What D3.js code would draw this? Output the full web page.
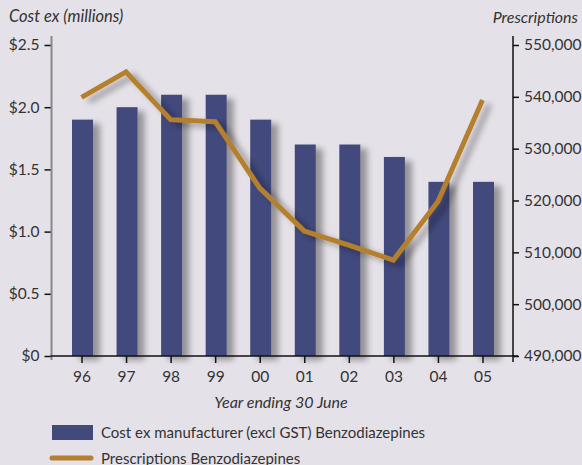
<!DOCTYPE html>
<html>
<head>
<meta charset="utf-8">
<script src="https://cdn.jsdelivr.net/npm/d3@7"></script>
<style>
  body { margin: 0; background: #e5e1e8; }
  svg { display: block; font-family: Lato, "Open Sans", sans-serif; }
</style>
</head>
<body>
<svg width="582" height="465"></svg>
<script>
// data
var years = ["96", "97", "98", "99", "00", "01", "02", "03", "04", "05"];
var cost = [1.9, 2.0, 2.1, 2.1, 1.9, 1.7, 1.7, 1.6, 1.4, 1.4];
var scripts = [539900, 544800, 535600, 535200, 522400, 514100, 511400, 508500, 519800, 539400];
var costTicks = [0, 0.5, 1.0, 1.5, 2.0, 2.5];
var scriptTicks = [490000, 500000, 510000, 520000, 530000, 540000, 550000];

var barColor = "#424a7b", lineColor = "#b5802d";
var fontFam = "Lato, \"Open Sans\", sans-serif";

var svg = d3.select("svg");
svg.append("rect").attr("width", 582).attr("height", 465).attr("fill", "#e5e1e8");

var defs = svg.append("defs");
var f = defs.append("filter").attr("id", "shadow")
  .attr("x", "-50%").attr("y", "-20%").attr("width", "200%").attr("height", "140%");
f.append("feGaussianBlur").attr("in", "SourceAlpha").attr("stdDeviation", 3).attr("result", "b");
f.append("feOffset").attr("in", "b").attr("dx", 7).attr("dy", 4).attr("result", "o");
f.append("feComponentTransfer").attr("in", "o").attr("result", "s")
  .append("feFuncA").attr("type", "linear").attr("slope", 0.35);
var m = f.append("feMerge");
m.append("feMergeNode").attr("in", "s");
m.append("feMergeNode").attr("in", "SourceGraphic");

var plot = { left: 51.5, right: 513, top: 45, bottom: 356 };

var x = d3.scalePoint().domain(years).range([81.5, 482.5]);
var yL = d3.scaleLinear().domain([0, 2.5]).range([plot.bottom, plot.top]);
var yR = d3.scaleLinear().domain([490000, 550000]).range([plot.bottom, plot.top]);

// bars
svg.append("g").attr("filter", "url(#shadow)")
  .selectAll("rect").data(cost).enter().append("rect")
  .attr("x", function(d, i) { return x(years[i]) - 9.5; })
  .attr("width", 21)
  .attr("y", function(d) { return yL(d); })
  .attr("height", function(d) { return plot.bottom - yL(d); })
  .attr("fill", barColor);

// line
var line = d3.line()
  .x(function(d, i) { return x(years[i]); })
  .y(function(d) { return yR(d); });
svg.append("path").datum(scripts)
  .attr("d", line)
  .attr("fill", "none")
  .attr("stroke", lineColor)
  .attr("stroke-width", 5)
  .attr("stroke-linejoin", "miter")
  .attr("filter", "url(#shadow)");

// axes
var axL = svg.append("g").attr("transform", "translate(" + plot.left + ",0)")
  .call(d3.axisLeft(yL).tickValues(costTicks).tickSize(7).tickPadding(5)
    .tickFormat(function(d) { return "$" + (d === 0 ? "0" : d3.format(".1f")(d)); }));
axL.select(".domain").remove();
axL.append("line").attr("x1", 0).attr("x2", 0).attr("y1", 36).attr("y2", 360)
  .attr("stroke", "#888").attr("stroke-width", 2);

var axR = svg.append("g").attr("transform", "translate(" + plot.right + ",0)")
  .call(d3.axisRight(yR).tickValues(scriptTicks).tickSize(6).tickPadding(5)
    .tickFormat(d3.format(",")));
axR.select(".domain").remove();
axR.append("line").attr("x1", 0).attr("x2", 0).attr("y1", 36).attr("y2", 362)
  .attr("stroke", "#111").attr("stroke-width", 1.5);

var axB = svg.append("g").attr("transform", "translate(0," + plot.bottom + ")")
  .call(d3.axisBottom(x).tickSize(7).tickPadding(8));
axB.select(".domain").remove();
axB.append("line").attr("x1", plot.left - 1).attr("x2", plot.right + 5).attr("y1", 0).attr("y2", 0)
  .attr("stroke", "#111").attr("stroke-width", 1.5);

svg.selectAll(".tick line").attr("stroke", "#111").attr("stroke-width", 1.5);
svg.selectAll(".tick text").attr("font-size", 15.5).attr("fill", "#333")
  .attr("font-family", fontFam);

// titles
svg.append("text").attr("x", 9).attr("y", 22).text("Cost ex (millions)")
  .attr("font-size", 16.5).attr("font-style", "italic").attr("fill", "#333");
svg.append("text").attr("x", 578).attr("y", 23).attr("text-anchor", "end").text("Prescriptions")
  .attr("font-size", 16).attr("font-style", "italic").attr("fill", "#333");
svg.append("text").attr("x", 281).attr("y", 408).attr("text-anchor", "middle").text("Year ending 30 June")
  .attr("font-size", 16).attr("font-style", "italic").attr("fill", "#333");

// legend
var lg = svg.append("g");
lg.append("rect").attr("x", 52).attr("y", 425).attr("width", 41).attr("height", 15).attr("fill", barColor);
lg.append("text").attr("x", 101).attr("y", 438).text("Cost ex manufacturer (excl GST) Benzodiazepines")
  .attr("font-size", 15).attr("fill", "#333");
lg.append("line").attr("x1", 52).attr("x2", 91).attr("y1", 458).attr("y2", 458)
  .attr("stroke", lineColor).attr("stroke-width", 5).attr("stroke-linecap", "round");
lg.append("text").attr("x", 101).attr("y", 464).text("Prescriptions Benzodiazepines")
  .attr("font-size", 15).attr("fill", "#333");
</script>
</body>
</html>
